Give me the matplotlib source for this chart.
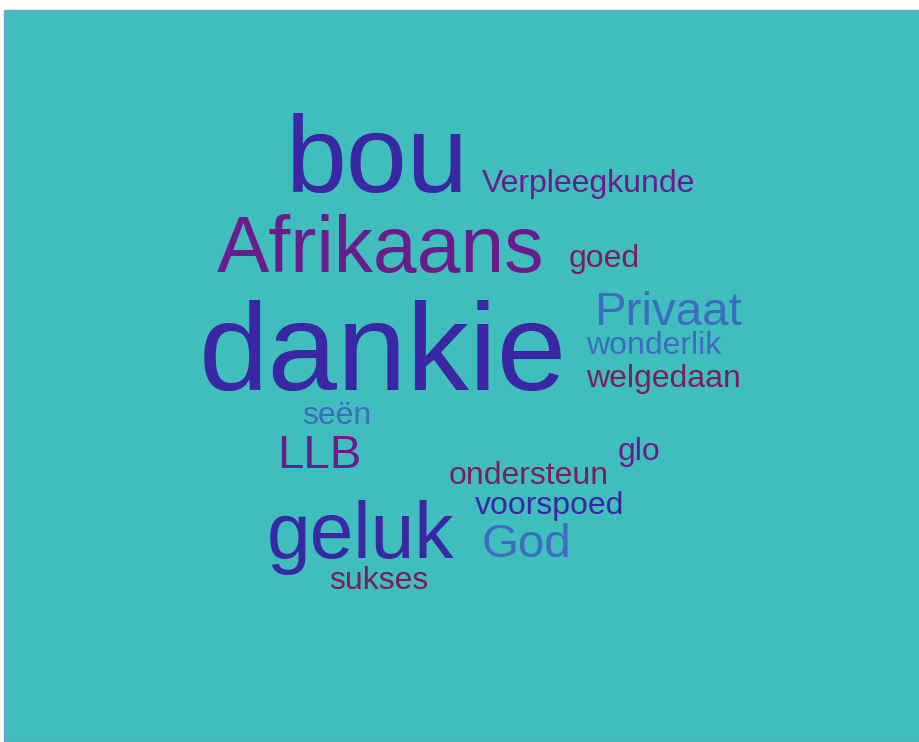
import matplotlib
matplotlib.use("Agg")
from matplotlib import pyplot as plt
from matplotlib.patches import Rectangle

# word cloud data: word -> count
words = ["dankie", "bou", "Afrikaans", "geluk", "Privaat", "LLB", "God",
         "Verpleegkunde", "goed", "wonderlik", "welgedaan", "seën",
         "glo", "ondersteun", "voorspoed", "sukses"]
counts = [8, 7, 5, 5, 3, 3, 3, 2, 2, 2, 2, 2, 2, 2, 2, 2]

# layout of the cloud (left x, baseline y in pixels) and colours
positions = [(199, 390), (286, 192), (217, 272), (267, 558), (594, 325),
             (277, 468), (482, 557), (482, 192), (569, 267), (586, 354),
             (586, 387), (302, 424), (618, 460), (449, 484), (475, 514),
             (329, 589)]
blue = "#3a27a3"
purple = "#6b1c8c"
maroon = "#7a1e5e"
light = "#3d6cc0"
colors = [blue, blue, purple, blue, light, purple, light, purple, maroon,
          light, maroon, light, purple, maroon, blue, maroon]

W, H = 920, 742
fig = plt.figure(figsize=(W / 100, H / 100), dpi=100)
ax = fig.add_axes([0, 0, 1, 1])
ax.set_xlim(0, W)
ax.set_ylim(H, 0)
ax.axis("off")

ax.add_patch(Rectangle((4, 10), W - 4, H - 10, facecolor="#40bebd",
                       edgecolor="#7a9ad8", linewidth=1))

for word, c, (x, y), col in zip(words, counts, positions, colors):
    size_px = 15.5 * c + 1
    ax.text(x, y, word, fontsize=size_px * 72 / 100, color=col,
            family="Liberation Sans", ha="left", va="baseline")

fig.savefig("out.png", dpi=100)
